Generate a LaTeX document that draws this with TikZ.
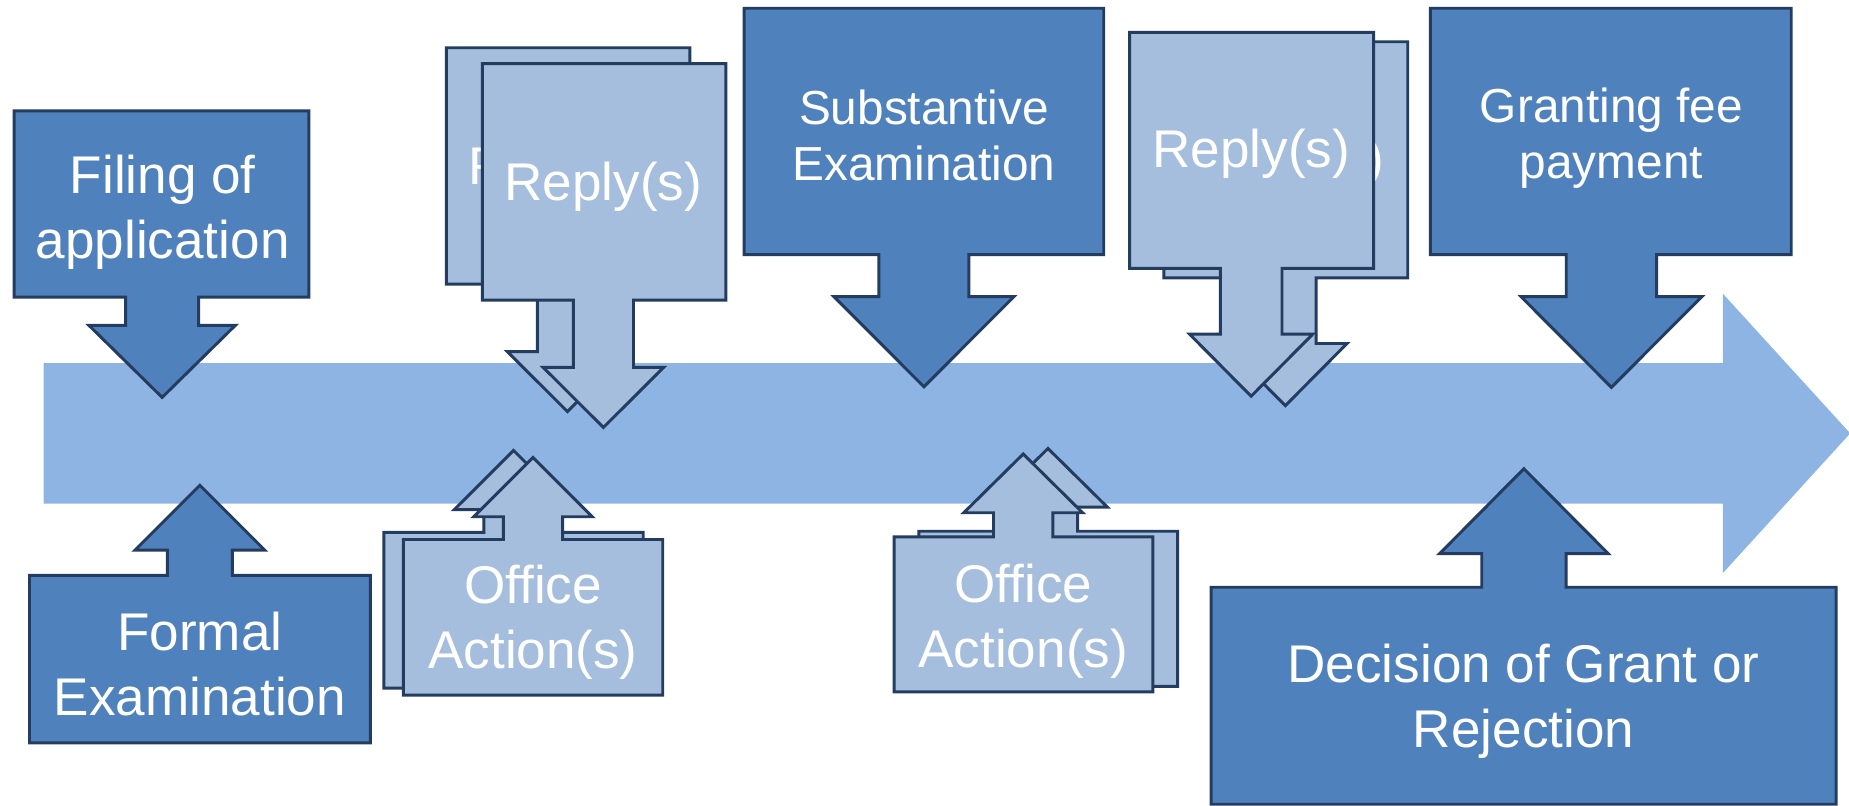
\documentclass[tikz,border=0pt]{standalone}
\usepackage{fontspec}
\setmainfont{Liberation Sans}
\definecolor{flowblue}{RGB}{142,180,227}
\definecolor{solidblue}{RGB}{79,129,189}
\definecolor{edgeblue}{RGB}{35,60,95}
\definecolor{hatchblue}{RGB}{165,190,221}
\tikzset{
  solidcall/.style={fill=solidblue,draw=edgeblue,line width=2.5pt},
  hatchcall/.style={fill=hatchblue,draw=edgeblue,line width=2.5pt},
  bigtxt/.style={text=white,align=center,font=\fontsize{45}{55}\selectfont,inner sep=0pt},
  midtxt/.style={text=white,align=center,font=\fontsize{40.5}{48}\selectfont,inner sep=0pt}
}
% #1 style, #2 x1, #3 y1 (top), #4 x2, #5 y2 (bottom), #6 cx, #7 stem width, #8 head base y, #9 tip y
\newcommand{\calldown}[9]{\draw[#1] (#2,#3) -- (#4,#3) -- (#4,#5) -- ({#6+#7/2},#5) -- ({#6+#7/2},#8) -- ({#6+#7},#8) -- (#6,#9) -- ({#6-#7},#8) -- ({#6-#7/2},#8) -- ({#6-#7/2},#5) -- (#2,#5) -- cycle;}
\newcommand{\callup}[9]{\draw[#1] (#2,#5) -- (#2,#3) -- ({#6-#7/2},#3) -- ({#6-#7/2},#8) -- ({#6-#7},#8) -- (#6,#9) -- ({#6+#7},#8) -- ({#6+#7/2},#8) -- ({#6+#7/2},#3) -- (#4,#3) -- (#4,#5) -- cycle;}
\begin{document}
\begin{tikzpicture}[x=1pt,y=-1pt]
\useasboundingbox (0,0) rectangle (1568,683);
% main flow arrow
\fill[flowblue] (37,308) -- (1461,308) -- (1461,249) -- (1569,367.5) -- (1461,486) -- (1461,427) -- (37,427) -- cycle;

% Filing of application
\calldown{solidcall}{12}{94}{262}{252}{137.5}{62}{276}{337}
\node[bigtxt] (filing) at (138,180) {Filing of\\application};

% Formal Examination
\callup{solidcall}{25}{488}{314}{630}{169.5}{55}{466.5}{411.5}
\node[bigtxt] (formal) at (169.5,563) {Formal\\Examination};

% Substantive Examination
\calldown{solidcall}{631}{7}{936}{216}{783.5}{76.3}{251.6}{328}
\node[midtxt] (subst) at (783.5,115) {Substantive\\Examination};

% Granting fee payment
\calldown{solidcall}{1213}{7}{1519}{216}{1366.5}{76.6}{251.6}{328.5}
\node[midtxt] (grant) at (1366.5,117) {Granting fee\\payment};

% Decision of Grant or Rejection
\callup{solidcall}{1027}{498}{1557}{682}{1292.3}{71.5}{469.5}{397.5}
\node[bigtxt] (decision) at (1292,595) {Decision of Grant or\\Rejection};

% Reply(s) left pair
\begin{scope}[shift={(-30.5,-13.5)}]
\calldown{hatchcall}{409}{54}{615.5}{254.5}{511.7}{51}{311.6}{362.5}
\node[bigtxt] (replyAback) at (511.7,158) {Reply(s)};
\end{scope}
\calldown{hatchcall}{409}{54}{615.5}{254.5}{511.7}{51}{311.6}{362.5}
\node[bigtxt] (replyA) at (511.7,158) {Reply(s)};

% Office Action(s) left pair
\begin{scope}[shift={(-16.5,-6)}]
\callup{hatchcall}{342}{457.5}{562}{589.5}{452}{50.3}{438.2}{388}
\end{scope}
\callup{hatchcall}{342}{457.5}{562}{589.5}{452}{50.3}{438.2}{388}
\node[bigtxt] (officeA) at (452,528) {Office\\Action(s)};

% Reply(s) right pair
\begin{scope}[shift={(29,8)}]
\calldown{hatchcall}{958}{27.4}{1164.8}{227.6}{1061}{52.3}{283.3}{336}
\node[bigtxt] (replyBback) at (1061,130) {Reply(s)};
\end{scope}
\calldown{hatchcall}{958}{27.4}{1164.8}{227.6}{1061}{52.3}{283.3}{336}
\node[bigtxt] (replyB) at (1061,130) {Reply(s)};

% Office Action(s) right pair
\begin{scope}[shift={(21,-4.7)}]
\callup{hatchcall}{758.3}{455.2}{977.7}{586.7}{867.7}{50.4}{434.8}{385}
\end{scope}
\callup{hatchcall}{758.3}{455.2}{977.7}{586.7}{867.7}{50.4}{434.8}{385}
\node[bigtxt] (officeB) at (867.7,527) {Office\\Action(s)};
\end{tikzpicture}
\end{document}
